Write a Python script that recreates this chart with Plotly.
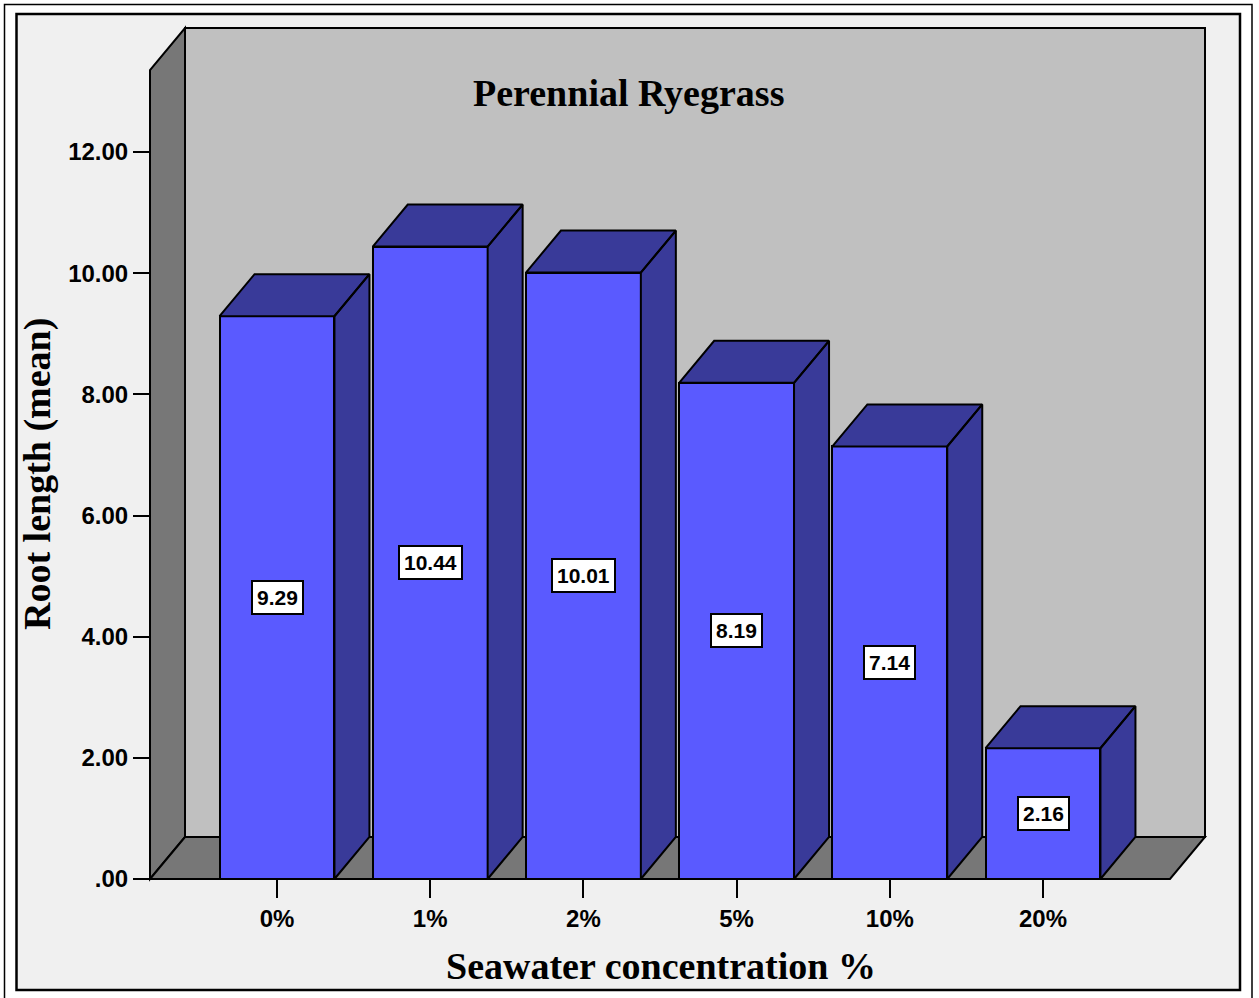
import plotly.graph_objects as go

# Mean root length of perennial ryegrass by seawater concentration
categories = ["0%", "1%", "2%", "5%", "10%", "20%"]
root_length = [9.29, 10.44, 10.01, 8.19, 7.14, 2.16]
y_tick_values = [0, 2, 4, 6, 8, 10, 12]
y_tick_labels = [".00", "2.00", "4.00", "6.00", "8.00", "10.00", "12.00"]

# Page geometry (pixels)
W, H = 1259, 998
PL, PR, PT, PB = 146, 1209, 25, 883          # plot area edges
X0_PX, X_STEP = 277.0, 153.2                  # first category centre, spacing
Y0_PX, Y_UNIT = 879.0, 60.58                  # zero line, pixels per unit


def x_of(px):
    return (px - X0_PX) / X_STEP


def y_of(py):
    return (Y0_PX - py) / Y_UNIT


def px_paper(px):
    return (px - PL) / (PR - PL)


def py_paper(py):
    return (PB - py) / (PB - PT)


BAR_W = 0.75
DX = 35 / X_STEP      # depth offset of the 3-D box, x units
DY = 42 / Y_UNIT      # depth offset, y units

FRONT = "#5a5aff"
SHADE = "#393a99"
WALL = "#c0c0c0"
DARK = "#777777"
BG = "#f0f0f0"

xs = list(range(len(categories)))

fig = go.Figure()

# Front faces of the bars
fig.add_trace(go.Bar(
    x=xs, y=root_length, width=BAR_W,
    marker=dict(color=FRONT, line=dict(color="black", width=2)),
    hoverinfo="skip", showlegend=False,
))

# Top and right-side faces for the 3-D look
px_list, py_list = [], []
for i, v in zip(xs, root_length):
    L, R = i - BAR_W / 2, i + BAR_W / 2
    px_list += [L, R, R + DX, L + DX, L, None]
    py_list += [v, v, v + DY, v + DY, v, None]
    px_list += [R, R + DX, R + DX, R, R, None]
    py_list += [0, DY, v + DY, v, 0, None]
fig.add_trace(go.Scatter(
    x=px_list, y=py_list, mode="lines", fill="toself", fillcolor=SHADE,
    line=dict(color="black", width=2), hoverinfo="skip", showlegend=False,
))

# Value labels in white boxes at mid-height of each bar
for i, v in zip(xs, root_length):
    fig.add_annotation(
        x=i, y=v / 2, text=f"{v:.2f}", showarrow=False,
        font=dict(family="Liberation Sans, Arial", size=21, color="black", weight="bold"),
        bgcolor="white", bordercolor="black", borderwidth=2, borderpad=4,
    )

# Chart frame: outer page border and inner panel
shapes = [
    dict(type="rect", xref="paper", yref="paper",
         x0=px_paper(16.5), x1=px_paper(1240), y0=py_paper(990), y1=py_paper(14),
         fillcolor=BG, line=dict(color="black", width=2.5), layer="below"),
    dict(type="path", xref="paper", yref="paper",
         path=(f"M {px_paper(4.5)},{py_paper(1000)} L {px_paper(4.5)},{py_paper(4.5)} "
               f"L {px_paper(1252)},{py_paper(4.5)} L {px_paper(1252)},{py_paper(1000)}"),
         line=dict(color="black", width=1.5), layer="below"),
]

# 3-D walls and floor
xl, xr = x_of(150), x_of(1170)
wall_top = y_of(70)
xmax = x_of(1205)
shapes += [
    dict(type="rect", xref="x", yref="y", x0=xl + DX, x1=xmax, y0=DY, y1=wall_top + DY,
         fillcolor=WALL, line=dict(color="black", width=2), layer="below"),
    dict(type="path", xref="x", yref="y",
         path=f"M {xl},0 L {xl},{wall_top} L {xl + DX},{wall_top + DY} L {xl + DX},{DY} Z",
         fillcolor=DARK, line=dict(color="black", width=2), layer="below"),
    dict(type="path", xref="x", yref="y",
         path=f"M {xl},0 L {xr},0 L {xr + DX},{DY} L {xl + DX},{DY} Z",
         fillcolor=DARK, line=dict(color="black", width=2), layer="below"),
]

tick_font = dict(family="Liberation Sans, Arial", size=24, color="black", weight="bold")
title_font = dict(family="Liberation Serif, Times New Roman", size=38, color="black", weight="bold")

fig.update_layout(
    width=W, height=H,
    margin=dict(l=PL, r=W - PR, t=PT, b=H - PB, pad=0),
    paper_bgcolor="white", plot_bgcolor="rgba(0,0,0,0)",
    shapes=shapes, showlegend=False, bargap=0,
    xaxis=dict(
        range=[x_of(PL), x_of(PR)], tickvals=xs, ticktext=categories,
        ticks="outside", ticklen=18, tickwidth=2, tickcolor="black",
        showgrid=False, zeroline=False, showline=False,
        tickfont=tick_font, anchor="free", position=py_paper(879),
        fixedrange=True,
    ),
    yaxis=dict(
        range=[y_of(PB), y_of(PT)], tickvals=y_tick_values, ticktext=y_tick_labels,
        ticks="outside", ticklen=17, tickwidth=2, tickcolor="black",
        showgrid=False, zeroline=False, showline=False,
        tickfont=tick_font, anchor="free", position=px_paper(150),
        fixedrange=True,
    ),
)

fig.add_annotation(
    xref="paper", yref="paper", x=px_paper(628), y=py_paper(93),
    text="Perennial Ryegrass", showarrow=False, font=title_font,
    xanchor="center", yanchor="middle",
)
fig.add_annotation(
    xref="paper", yref="paper", x=px_paper(661), y=py_paper(966),
    text="Seawater concentration %", showarrow=False, font=title_font,
    xanchor="center", yanchor="middle",
)
fig.add_annotation(
    xref="paper", yref="paper", x=px_paper(37), y=py_paper(474),
    text="Root length (mean)", showarrow=False, font=title_font, textangle=-90,
    xanchor="center", yanchor="middle",
)

fig.write_html("out.html")
